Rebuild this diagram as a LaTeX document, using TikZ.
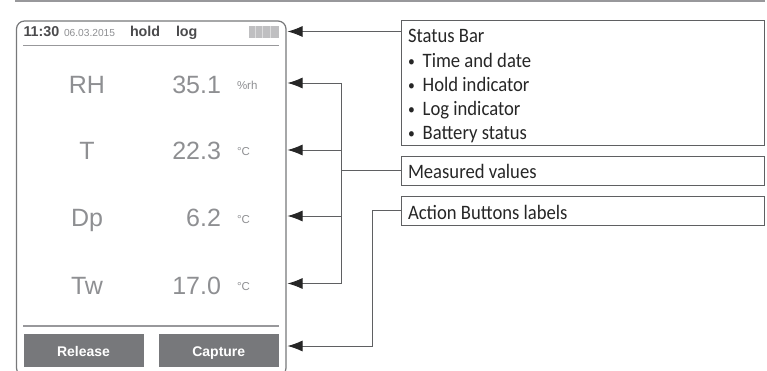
\documentclass[tikz,border=0pt]{standalone}
\usepackage{fontspec}
\setmainfont{Liberation Sans}
\newfontfamily\callout[FakeStretch=0.91]{Carlito}
\definecolor{rulegray}{HTML}{98989B}
\definecolor{valgray}{HTML}{8E8F92}
\definecolor{darktxt}{HTML}{4A4A4C}
\definecolor{btngray}{HTML}{77787B}
\definecolor{linegray}{HTML}{5F6062}
\definecolor{batgray}{HTML}{BFBFC1}
\usetikzlibrary{arrows.meta}
\tikzset{
  every node/.style={inner sep=0pt,outer sep=0pt},
  callfont/.style={font=\callout\fontsize{20.5}{24}\selectfont,text=black!85},
  callbox/.style={callfont,draw=linegray,line width=0.8pt,minimum width=363pt,anchor=north west,text width=349pt,align=flush left,inner xsep=7pt,text height=20pt,text depth=3pt},
  conn/.style={draw=linegray,line width=0.9pt},
  arr/.style={conn,-{Latex[length=15pt,width=11pt,color=black!85]}},
  bigval/.style={anchor=base east,text=valgray,font=\fontsize{25}{25}\selectfont},
  biglab/.style={anchor=base,text=valgray,font=\fontsize{25}{25}\selectfont},
  unitlab/.style={anchor=base west,text=valgray,font=\fontsize{11.5}{12}\selectfont},
  statustxt/.style={anchor=base west,text=darktxt,font=\bfseries\fontsize{14.3}{15}\selectfont},
  btn/.style={fill=btngray,minimum height=33.5pt,minimum width=120pt,text height=14pt,text depth=3pt,text=white,font=\bfseries\fontsize{14}{14}\selectfont},
  divider/.style={draw=rulegray,line width=1.1pt}
}
\begin{document}
\begin{tikzpicture}[x=1pt,y=-1pt]
\useasboundingbox (0,0) rectangle (767,371);
\fill[rulegray] (15,-0.5) rectangle (765,1.8);
% device
\draw[draw=linegray!85,line width=1.2pt,rounded corners=8pt] (16.5,21) rectangle (286,376);
\draw[divider] (23,45.5) -- (279,45.5);
\draw[divider] (23,326) -- (279,326);
\node[statustxt] (time) at (23.5,36.7) {11:30};
\node[anchor=base west,text=valgray,font=\fontsize{10.2}{11}\selectfont] (date) at (64,36.7) {06.03.2015};
\node[statustxt] (hold) at (130,36.7) {hold};
\node[statustxt] (log) at (176,36.7) {log};
\fill[batgray] (248.5,26.5) rectangle (279,38.5);
\foreach \x in {255,262.5,270}{\draw[white!45!batgray,line width=0.5pt] (\x,26.5) -- (\x,38.5);}
% readings
\node[biglab] (rh) at (87,94) {RH};
\node[biglab] (t) at (87,159.5) {T};
\node[biglab] (dp) at (87,226) {Dp};
\node[biglab] (tw) at (87,294) {Tw};
\node[bigval] (v1) at (221,94) {35.1};
\node[bigval] (v2) at (221,159.5) {22.3};
\node[bigval] (v3) at (221,226) {6.2};
\node[bigval] (v4) at (221,294) {17.0};
\node[unitlab] (u1) at (237,89.5) {\%rh};
\node[unitlab] (u2) at (237,156) {°C};
\node[unitlab] (u3) at (237,223) {°C};
\node[unitlab] (u4) at (237,290.5) {°C};
% buttons
\node[btn] (release) at (83.5,350.5) {Release};
\node[btn] (capture) at (218.75,350.5) {Capture};
% callouts
\node[callbox,minimum height=124.5pt] (status) at (401,20.5) {};
\node[anchor=base west,callfont] (statustext) at (408,43) {Status Bar};
\foreach \n/\y/\s in {a/67.5/Time and date,b/91.5/Hold indicator,c/115.5/Log indicator,d/139.5/Battery status}{
  \node[anchor=base west,callfont] (it\n) at (408,\y) {\makebox[14.7pt][l]{\raisebox{1.2pt}{\fontsize{15}{15}\selectfont •}}\s};
}
\node[callbox,minimum height=29pt] (measured) at (401,156) {Measured values};
\node[callbox,minimum height=29pt] (action) at (401,196) {Action Buttons labels};
% connectors
\coordinate (tS) at (287.5,31.5);
\coordinate (t1) at (287.5,83);
\coordinate (t2) at (287.5,150);
\coordinate (t3) at (287.5,216);
\coordinate (t4) at (287.5,283.5);
\coordinate (tB) at (287.5,346);
\coordinate (trunkA) at (341.5,83);
\coordinate (trunkB) at (341.5,283.5);
\coordinate (riser) at (372,210);
\draw[arr] (status.west|-tS) -- (tS);
\draw[conn] (measured.west) -- (measured.west-|trunkA);
\draw[arr] (trunkA) -- (t1);
\draw[arr] (trunkA|-t2) -- (t2);
\draw[arr] (trunkA|-t3) -- (t3);
\draw[arr] (trunkB) -- (t4);
\draw[conn] (trunkA) -- (trunkB);
\draw[arr] (action.west) -| (riser|-tB) -- (tB);
\end{tikzpicture}
\end{document}
